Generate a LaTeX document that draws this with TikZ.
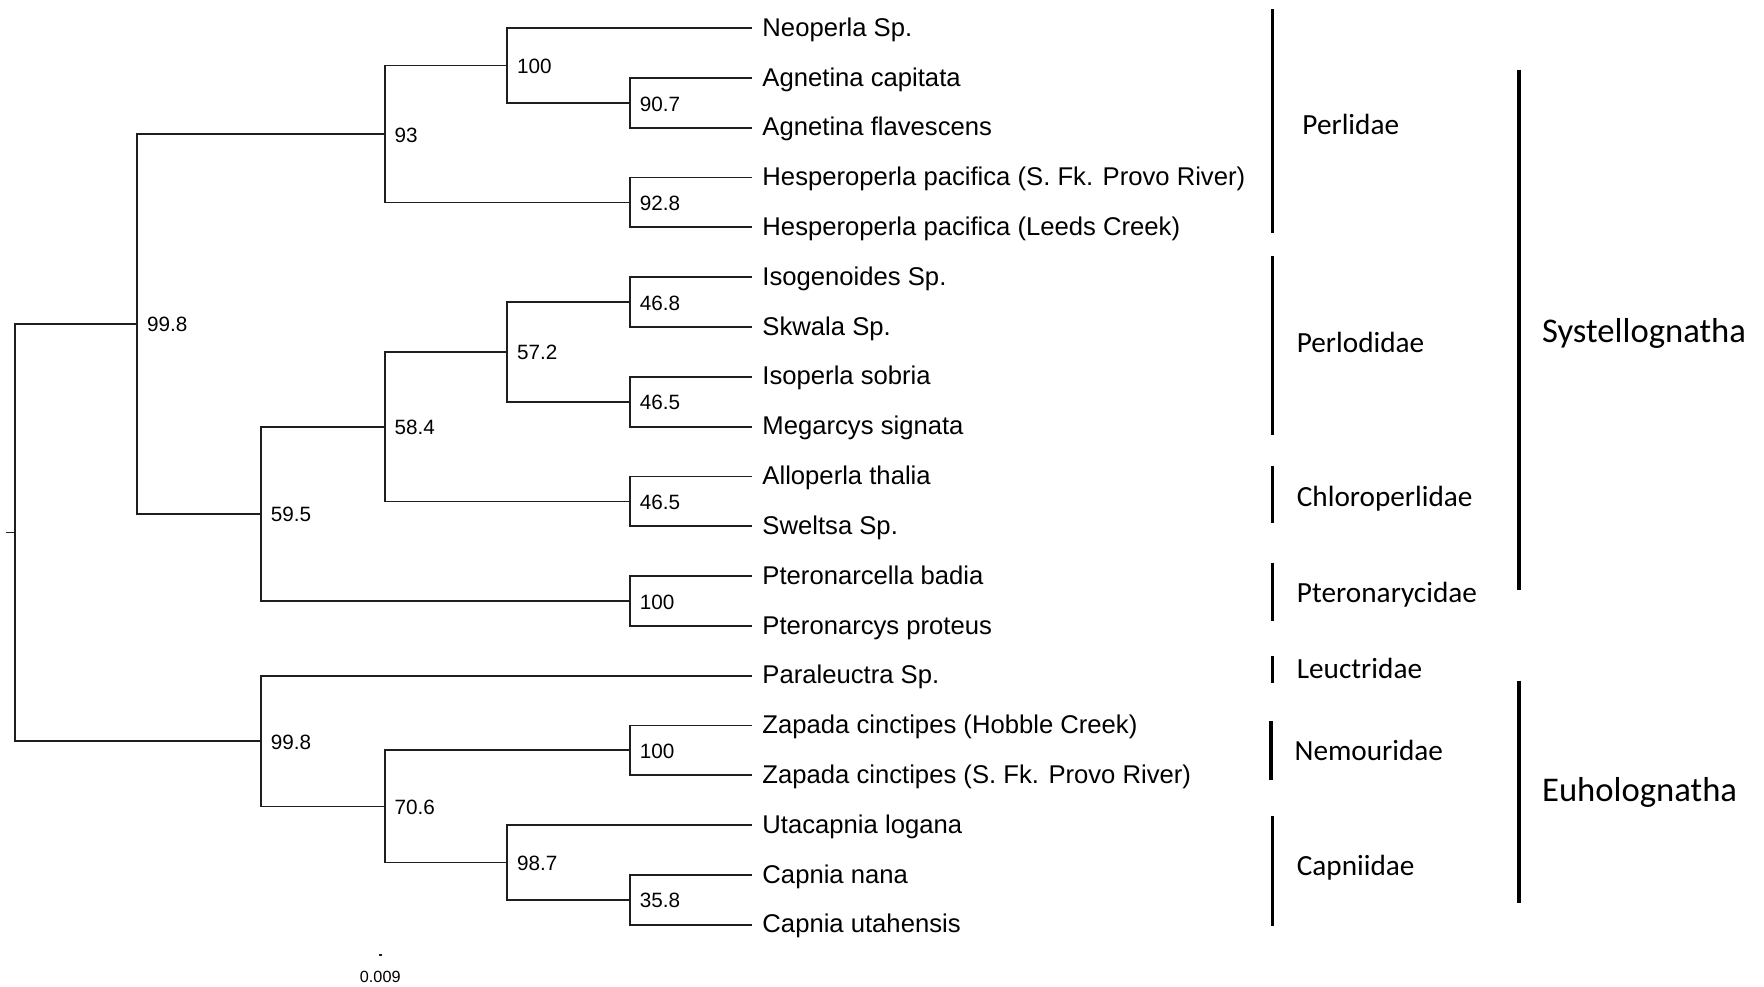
\documentclass[tikz,border=0pt]{standalone}
\usepackage{fontspec}
\setmainfont{Liberation Sans}
\newfontfamily\grpfont{Carlito}

\tikzset{every picture/.style={line width=0.75pt}}
\tikzset{
  branch/.style={line width=0.8pt, color={rgb, 255:red, 30; green, 30; blue, 30}},
  taxon/.style={anchor=west, inner xsep=4.5pt, inner ysep=0pt, text height=0.72em, text depth=0pt, font=\fontsize{11.4}{13}\selectfont},
  support/.style={anchor=west, inner xsep=4pt, inner ysep=0pt, text height=0.72em, text depth=0pt, font=\fontsize{9.2}{11}\selectfont},
  bar/.style={line width=1.6pt},
  family/.style={anchor=west, inner sep=0pt, text height=0.64em, text depth=0pt, font=\grpfont\fontsize{13}{15}\selectfont},
  order/.style={anchor=west, inner sep=0pt, text height=0.64em, text depth=0pt, font=\grpfont\fontsize{15.4}{18}\selectfont}
}

\begin{document}
\begin{tikzpicture}[x=0.5pt,y=0.5pt,yscale=-1,xscale=1]
\useasboundingbox (0,0) rectangle (1568,877);

% Taxa
\node[taxon] (neo)  at (668,25)    {Neoperla Sp.};
\node[taxon] (agca) at (668,69.3)  {Agnetina capitata};
\node[taxon] (agfl) at (668,113.6) {Agnetina flavescens};
\node[taxon] (hepv) at (668,157.8) {Hesperoperla pacifica (S. Fk. Provo River)};
\node[taxon] (helc) at (668,202.1) {Hesperoperla pacifica (Leeds Creek)};
\node[taxon] (isog) at (668,246.4) {Isogenoides Sp.};
\node[taxon] (skwa) at (668,290.7) {Skwala Sp.};
\node[taxon] (isso) at (668,335)   {Isoperla sobria};
\node[taxon] (mesi) at (668,379.2) {Megarcys signata};
\node[taxon] (alth) at (668,423.5) {Alloperla thalia};
\node[taxon] (swel) at (668,467.8) {Sweltsa Sp.};
\node[taxon] (ptba) at (668,512.1) {Pteronarcella badia};
\node[taxon] (ptpr) at (668,556.4) {Pteronarcys proteus};
\node[taxon] (para) at (668,600.6) {Paraleuctra Sp.};
\node[taxon] (zahc) at (668,644.9) {Zapada cinctipes (Hobble Creek)};
\node[taxon] (zapv) at (668,689.2) {Zapada cinctipes (S. Fk. Provo River)};
\node[taxon] (utlo) at (668,733.5) {Utacapnia logana};
\node[taxon] (cana) at (668,777.8) {Capnia nana};
\node[taxon] (caut) at (668,822)   {Capnia utahensis};

% Internal nodes with support values
\node[support] (n907)  at (560,91.5)  {90.7};
\node[support] (n928)  at (560,180)   {92.8};
\node[support] (n100a) at (451,58.2)  {100};
\node[support] (n93)   at (342,119.1) {93};
\node[support] (n468)  at (560,268.6) {46.8};
\node[support] (n465a) at (560,357.1) {46.5};
\node[support] (n572)  at (451,312.8) {57.2};
\node[support] (n465b) at (560,445.7) {46.5};
\node[support] (n584)  at (342,379.2) {58.4};
\node[support] (n100b) at (560,534.2) {100};
\node[support] (n595)  at (232,456.7) {59.5};
\node[support] (n998a) at (122,287.9) {99.8};
\node[support] (n100c) at (560,667)   {100};
\node[support] (n358)  at (560,799.9) {35.8};
\node[support] (n987)  at (451,766.7) {98.7};
\node[support] (n706)  at (342,716.9) {70.6};
\node[support] (n998b) at (232,658.7) {99.8};
\coordinate (root) at (13,473.3);
\coordinate (stub) at (5,473.3);

% Branches
\draw[branch] (stub) -- (root);
\draw[branch] (root) |- (n998a.west);
\draw[branch] (root) |- (n998b.west);
\draw[branch] (n998a.west) |- (n93.west);
\draw[branch] (n998a.west) |- (n595.west);
\draw[branch] (n93.west) |- (n100a.west);
\draw[branch] (n93.west) |- (n928.west);
\draw[branch] (n100a.west) |- (neo.west);
\draw[branch] (n100a.west) |- (n907.west);
\draw[branch] (n907.west) |- (agca.west);
\draw[branch] (n907.west) |- (agfl.west);
\draw[branch] (n928.west) |- (hepv.west);
\draw[branch] (n928.west) |- (helc.west);
\draw[branch] (n595.west) |- (n584.west);
\draw[branch] (n595.west) |- (n100b.west);
\draw[branch] (n584.west) |- (n572.west);
\draw[branch] (n584.west) |- (n465b.west);
\draw[branch] (n572.west) |- (n468.west);
\draw[branch] (n572.west) |- (n465a.west);
\draw[branch] (n468.west) |- (isog.west);
\draw[branch] (n468.west) |- (skwa.west);
\draw[branch] (n465a.west) |- (isso.west);
\draw[branch] (n465a.west) |- (mesi.west);
\draw[branch] (n465b.west) |- (alth.west);
\draw[branch] (n465b.west) |- (swel.west);
\draw[branch] (n100b.west) |- (ptba.west);
\draw[branch] (n100b.west) |- (ptpr.west);
\draw[branch] (n998b.west) |- (para.west);
\draw[branch] (n998b.west) |- (n706.west);
\draw[branch] (n706.west) |- (n100c.west);
\draw[branch] (n706.west) |- (n987.west);
\draw[branch] (n100c.west) |- (zahc.west);
\draw[branch] (n100c.west) |- (zapv.west);
\draw[branch] (n987.west) |- (utlo.west);
\draw[branch] (n987.west) |- (n358.west);
\draw[branch] (n358.west) |- (cana.west);
\draw[branch] (n358.west) |- (caut.west);

% Scale bar
\coordinate (sb1) at (337,849);
\coordinate (sb2) at (339.5,849);
\draw[branch] (sb1) -- (sb2);
\node[inner sep=0pt, font=\fontsize{7.2}{9}\selectfont] (sbl) at (338,868) {0.009};

% Families
\coordinate (perT) at (1131,8);    \coordinate (perB) at (1131,207);
\coordinate (pldT) at (1131,228);  \coordinate (pldB) at (1131,387);
\coordinate (chlT) at (1131,414);  \coordinate (chlB) at (1131,465);
\coordinate (ptrT) at (1131,500);  \coordinate (ptrB) at (1131,552);
\coordinate (leuT) at (1131,583);  \coordinate (leuB) at (1131,607);
\coordinate (nemT) at (1130,641);  \coordinate (nemB) at (1130,693);
\coordinate (capT) at (1131,725);  \coordinate (capB) at (1131,823);
\draw[bar] (perT) -- (perB);
\draw[bar] (pldT) -- (pldB);
\draw[bar] (chlT) -- (chlB);
\draw[bar] (ptrT) -- (ptrB);
\draw[bar] (leuT) -- (leuB);
\draw[bar] (nemT) -- (nemB);
\draw[bar] (capT) -- (capB);
\node[family] (perl) at (1157,113) {Perlidae};
\node[family] (pldi) at (1152,307) {Perlodidae};
\node[family] (chlo) at (1152,444) {Chloroperlidae};
\node[family] (ptro) at (1152,529) {Pteronarycidae};
\node[family] (leuc) at (1152,597) {Leuctridae};
\node[family] (nemo) at (1150,670) {Nemouridae};
\node[family] (capn) at (1152,772) {Capniidae};

% Suborders
\coordinate (sysT) at (1350,62);   \coordinate (sysB) at (1350,524);
\coordinate (euhT) at (1350,605);  \coordinate (euhB) at (1350,803);
\draw[bar] (sysT) -- (sysB);
\draw[bar] (euhT) -- (euhB);
\node[order] (syst) at (1370,298) {Systellognatha};
\node[order] (euho) at (1370,706) {Euholognatha};

\end{tikzpicture}
\end{document}
